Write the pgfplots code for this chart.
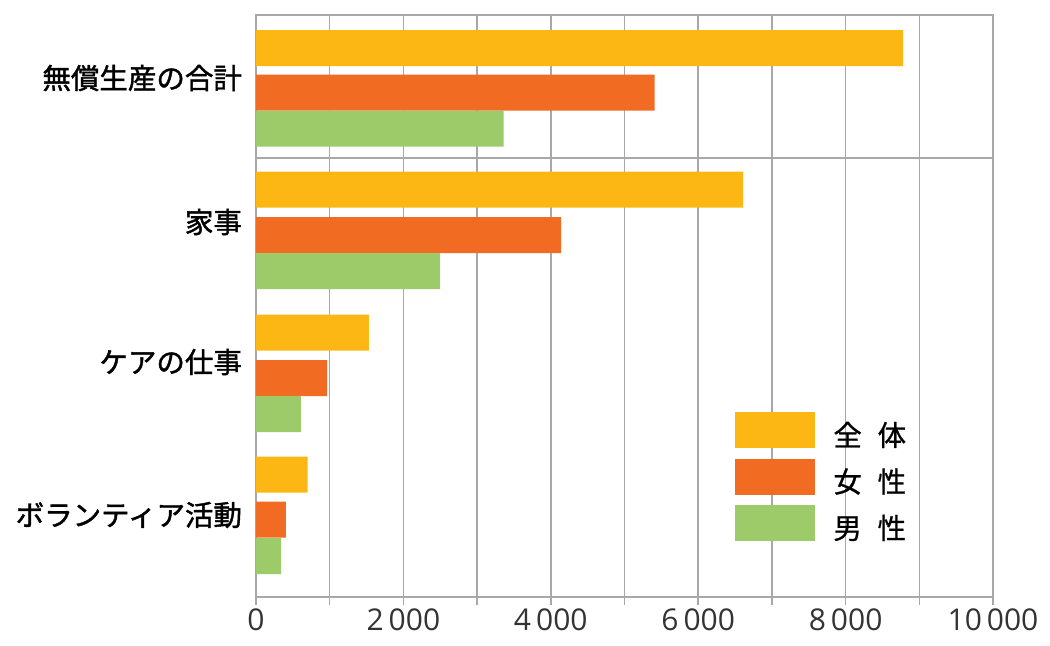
\documentclass[border=0pt]{standalone}
\usepackage{fontspec}
\setmainfont{Open Sans}
\newfontfamily\jp{Noto Sans CJK JP}[FakeBold=1.4]
\newfontfamily\jpl{Noto Sans CJK JP}[FakeBold=0.8]
\usepackage{pgfplots}
\pgfplotsset{compat=1.18}
\definecolor{cAll}{HTML}{FDB714}
\definecolor{cFem}{HTML}{F26B23}
\definecolor{cMal}{HTML}{9DCB6A}
\definecolor{gridc}{HTML}{A8A8A8}
\begin{document}
\begin{tikzpicture}
\useasboundingbox (0,0) rectangle (525pt,322.5pt);
\begin{axis}[
  at={(128pt,24pt)}, anchor=south west,
  scale only axis, width=368.5pt, height=291pt,
  xbar, bar shift=0pt, bar width=36,
  xmin=0, xmax=10000, ymin=15, ymax=597, y dir=reverse,
  scaled x ticks=false, scaled y ticks=false,
  xtick={0,1000,...,10000},
  xticklabels={0,,2\,000,,4\,000,,6\,000,,8\,000,,10\,000},
  xtick pos=bottom, tick align=outside, major tick length=4pt,
  xmajorgrids, grid style={gridc, line width=0.75pt},
  axis line style={gridc, line width=0.75pt},
  xtick style={gridc, line width=0.75pt},
  xticklabel style={font=\fontsize{15}{18}\selectfont, text=black!80, yshift=1.5pt},
  ytick={78,222,362,515},
  yticklabels={無償生産の合計,家事,ケアの仕事,ボランティア活動},
  ytick style={draw=none},
  yticklabel style={font=\jp\fontsize{14.25}{16}\selectfont, text=black, xshift=0.5pt},
  extra y ticks={158}, extra y tick labels={},
  extra y tick style={ymajorgrids, grid style={gridc, line width=0.75pt}, ytick style={draw=none}},
  legend image code/.code={\fill[#1] (0pt,-6.5pt) rectangle (40pt,11.5pt);},
  legend style={draw=none, fill=none, at={(0.650,0.318)}, anchor=north west,
    inner sep=0pt, row sep=5pt, column sep=9pt,
    nodes={inner sep=0pt, font=\jpl\fontsize{14.25}{16}\selectfont}},
  legend cell align=left,
]
\addplot[fill=cAll, draw=none] coordinates {(8780,48) (6610,189.5) (1530,332.5) (700,474.5)};
\addplot[fill=cFem, draw=none] coordinates {(5410,92.5) (4140,235) (965,378) (405,519.5)};
\addplot[fill=cMal, draw=none] coordinates {(3360,128.5) (2500,271) (610,414) (340,556)};
\legend{全\hspace{0.55em}体,女\hspace{0.55em}性,男\hspace{0.55em}性}
\end{axis}
\end{tikzpicture}
\end{document}
